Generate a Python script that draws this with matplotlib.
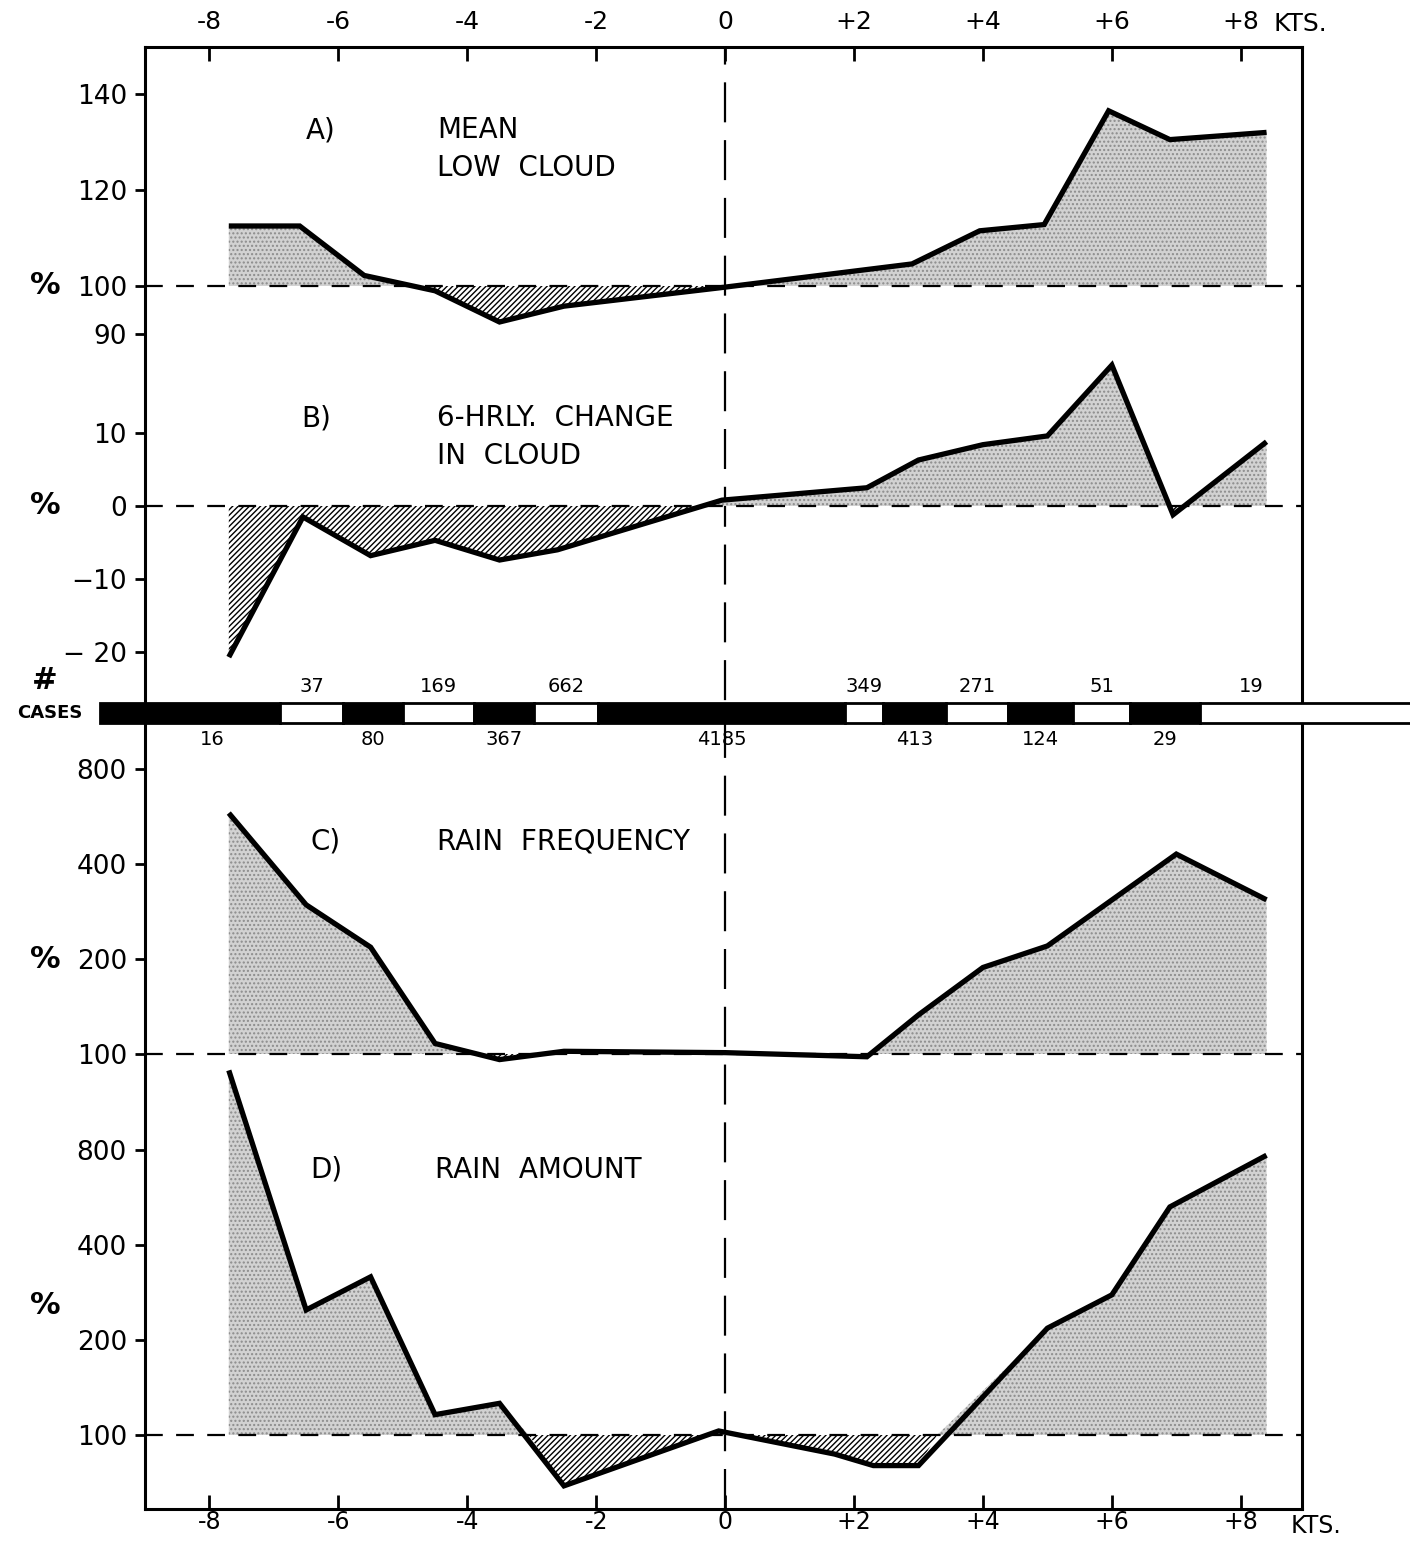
import matplotlib
matplotlib.use("Agg")
import matplotlib.pyplot as plt
from matplotlib.patches import Rectangle
from matplotlib.transforms import blended_transform_factory

plt.rcParams["font.family"] = ["DejaVu Sans"]
plt.rcParams["hatch.linewidth"] = 1.0

# --- data ---------------------------------------------------------------
# A) mean low cloud (% of mean)
a_kts = [-7.7, -6.6, -5.6, -4.5, -3.5, -2.5, -0.1, 2.9, 3.95, 4.95, 5.95, 6.9, 8.4]
a_pct = [112.5, 112.5, 102.2, 99.0, 92.5, 95.8, 99.6, 104.6, 111.5, 112.8, 136.5, 130.5, 132.0]

# B) 6-hrly change in cloud (%)
b_kts = [-7.7, -6.55, -5.5, -4.5, -3.5, -2.6, -0.05, 2.2, 3.0, 4.0, 5.0, 6.0, 6.95, 8.4]
b_pct = [-20.7, -1.5, -6.8, -4.7, -7.4, -6.0, 0.8, 2.5, 6.3, 8.4, 9.6, 19.3, -1.2, 8.8]

# C) rain frequency (%)
c_kts = [-7.7, -6.5, -5.5, -4.5, -3.5, -2.5, 0.0, 2.2, 3.0, 4.0, 5.0, 7.0, 8.4]
c_pct = [580, 297, 218, 108, 96, 102, 101, 98, 133, 188, 220, 430, 308]

# D) rain amount (%)
d_kts = [-7.7, -6.5, -5.5, -4.5, -3.5, -2.5, -0.1, 1.7, 2.3, 3.0, 5.0, 6.0, 6.9, 8.4]
d_pct = [1430, 249, 317, 116, 126, 69, 103, 87, 80, 80, 218, 278, 528, 770]

# number of cases per wind class
case_edges = [-9.7, -6.9, -5.93, -5.0, -3.9, -2.97, -1.97, 1.86, 2.45, 3.42, 4.39, 5.4, 6.28, 7.36, 10.8]
case_counts = [16, 37, 80, 169, 367, 662, 4185, 349, 413, 271, 124, 51, 29, 19]

top_labels = ["-8", "-6", "-4", "-2", "0", "+2", "+4", "+6", "+8"]
bot_labels = ["-8", "-6", "-4", "-2", "0", "+2", "+4", "+6", "+8"]
x_ticks = [-8, -6, -4, -2, 0, 2, 4, 6, 8]

W, H = 1410, 1541
XL, XR = 145, 1302          # frame, pixels
XLIM = (-9.0, 8.95)


def rect(y_top, y_bot):
    """pixel rows -> figure fraction rect"""
    return [XL / W, 1 - y_bot / H, (XR - XL) / W, (y_bot - y_top) / H]


fig = plt.figure(figsize=(W / 100, H / 100), dpi=100)

# frame with the kts axis top and bottom
frame = fig.add_axes(rect(47, 1509), zorder=0)
frame.set_xlim(*XLIM)
frame.set_ylim(0, 1)
frame.set_yticks([])
for s in frame.spines.values():
    s.set_linewidth(2.2)
frame.set_xticks(x_ticks)
frame.set_xticklabels(bot_labels, fontsize=17)
frame.tick_params(axis="x", direction="in", length=10, width=2, pad=1,
                  top=True, labeltop=False)
frame.axvline(0, color="black", lw=1.6, dashes=(18, 8))

top = frame.secondary_xaxis("top")
top.set_xticks(x_ticks)
top.set_xticklabels(top_labels, fontsize=18)
top.tick_params(length=0, pad=9)
top.spines["top"].set_visible(False)
fig.text(1300 / W, 1 - 24 / H, "KTS.", ha="center", va="center", fontsize=18)
fig.text(1316 / W, 1 - 1526 / H, "KTS.", ha="center", va="center", fontsize=17)


def panel(y_top, y_bot, ylim, log=False):
    ax = fig.add_axes(rect(y_top, y_bot), zorder=2)
    ax.patch.set_alpha(0)
    for s in ax.spines.values():
        s.set_visible(False)
    ax.set_xlim(*XLIM)
    if log:
        ax.set_yscale("log", base=2)
    ax.set_ylim(*ylim)
    ax.set_xticks([])
    ax.minorticks_off()
    ax.tick_params(axis="y", direction="out", length=7, width=2, pad=6,
                   labelsize=19)
    return ax


def draw(ax, xs, ys, base):
    ax.fill_between(xs, ys, base, where=[v >= base for v in ys], interpolate=True,
                    facecolor="#d2d2d2", edgecolor="#8c8c8c", hatch="....",
                    linewidth=0, zorder=1)
    ax.fill_between(xs, ys, base, where=[v <= base for v in ys], interpolate=True,
                    facecolor="white", edgecolor="black", hatch="//////",
                    linewidth=0, zorder=1)
    ax.axhline(base, color="black", lw=1.6, dashes=(8, 6), zorder=2)
    ax.plot(xs, ys, color="black", lw=3.8, solid_joinstyle="miter",
            solid_capstyle="butt", zorder=3)


def pct_label(ax, y):
    tr = blended_transform_factory(fig.transFigure, ax.transData)
    ax.text(45 / W, y, "%", transform=tr, ha="center", va="center",
            fontsize=22, fontweight="bold")


# A
ax_a = panel(47, 340, (100 - (340 - 286) / 4.8, 100 + (286 - 47) / 4.8))
draw(ax_a, a_kts, a_pct, 100)
ax_a.set_yticks([90, 100, 120, 140])
ax_a.set_yticklabels(["90", "100", "120", "140"])
pct_label(ax_a, 100)
ax_a.text(-6.5, 132.5, "A)", fontsize=20, va="center")
ax_a.text(-4.47, 132.5, "MEAN", fontsize=20, va="center")
ax_a.text(-4.47, 124.6, "LOW  CLOUD", fontsize=20, va="center")

# B
ax_b = panel(340, 703, (-(703 - 506) / 7.3, (506 - 340) / 7.3))
draw(ax_b, b_kts, b_pct, 0)
ax_b.set_yticks([-20, -10, 0, 10])
ax_b.set_yticklabels(["\u2212 20", "\u221210", "0", "10"])
pct_label(ax_b, 0)
ax_b.text(-6.57, 12.0, "B)", fontsize=20, va="center")
ax_b.text(-4.47, 12.0, "6-HRLY.  CHANGE", fontsize=20, va="center")
ax_b.text(-4.47, 6.8, "IN  CLOUD", fontsize=20, va="center")

# C
ax_c = panel(723, 1075, (100 * 2 ** (-(1075 - 1054) / 95), 100 * 2 ** ((1054 - 723) / 95)), log=True)
draw(ax_c, c_kts, c_pct, 100)
ax_c.set_yticks([100, 200, 400, 800])
ax_c.set_yticklabels(["100", "200", "400", "800"])
ax_c.minorticks_off()
pct_label(ax_c, 200)
ax_c.text(-6.44, 470, "C)", fontsize=20, va="center")
ax_c.text(-4.47, 470, "RAIN  FREQUENCY", fontsize=20, va="center")

# D
ax_d = panel(1060, 1509, (100 * 2 ** (-(1509 - 1435) / 95), 100 * 2 ** ((1435 - 1060) / 95)), log=True)
draw(ax_d, d_kts, d_pct, 100)
ax_d.set_yticks([100, 200, 400, 800])
ax_d.set_yticklabels(["100", "200", "400", "800"])
ax_d.minorticks_off()
pct_label(ax_d, 258)
ax_d.text(-6.44, 692, "D)", fontsize=20, va="center")
ax_d.text(-4.5, 692, "RAIN  AMOUNT", fontsize=20, va="center")

# number of cases bar
bar = fig.add_axes(rect(703, 723), zorder=3)
bar.set_xlim(*XLIM)
bar.set_ylim(0, 1)
bar.axis("off")
for i, n in enumerate(case_counts):
    x0, x1 = case_edges[i], case_edges[i + 1]
    fc = "black" if i % 2 == 0 else "white"
    bar.add_patch(Rectangle((x0, 0), x1 - x0, 1, facecolor=fc, edgecolor="black",
                            lw=2, clip_on=False))
    xc = (max(x0, XLIM[0]) + min(x1, XLIM[1])) / 2
    if i % 2 == 0:
        bar.text(xc, -0.35, str(n), ha="center", va="top", fontsize=14)
    else:
        bar.text(xc, 1.35, str(n), ha="center", va="bottom", fontsize=14)
fig.text(45 / W, 1 - 680 / H, "#", ha="center", va="center", fontsize=22,
         fontweight="bold")
fig.text(50 / W, 1 - 713 / H, "CASES", ha="center", va="center", fontsize=13,
         fontweight="bold")

fig.savefig("out.png", dpi=100)
